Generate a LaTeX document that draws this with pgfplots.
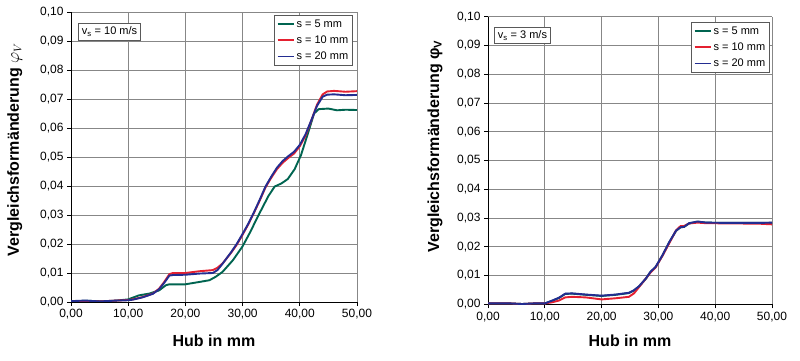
\documentclass[border=0pt]{standalone}
\usepackage{pgfplots}
\pgfplotsset{compat=1.18}
\usepackage{pgfplotstable}
\usepackage{fontspec}
\setmainfont{Liberation Sans}
\definecolor{cgreen}{RGB}{0,100,80}
\definecolor{cred}{RGB}{228,32,48}
\definecolor{cblue}{RGB}{35,45,145}
\definecolor{gridc}{RGB}{135,135,135}

% left chart (v_s = 10 m/s)
\pgfplotstableread{
x y
0 0.0003
3 0.0004
6 0.0002
8 0.0005
10 0.0009
10.8 0.0015
11.9 0.0023
13.7 0.0029
15.4 0.0040
16.6 0.0058
17.2 0.0061
20 0.0061
22.4 0.0069
24.2 0.0075
25.3 0.0087
26.5 0.0104
28.3 0.0144
30 0.0192
31.3 0.0240
32.8 0.0300
34.5 0.0365
35.6 0.0398
36.8 0.0409
37.9 0.0424
39.1 0.0458
40.2 0.0506
41.4 0.0580
42.5 0.0650
43.3 0.0665
45 0.0667
46.5 0.0661
48 0.0663
50 0.0662
}\LfiveTab
\pgfplotstableread{
x y
0 0.0003
5 0.0002
8 0.0005
10 0.0007
10.8 0.0009
12.5 0.0017
14.3 0.0029
15.4 0.0046
16.3 0.0069
17.2 0.0096
17.8 0.0100
20 0.0100
22.4 0.0106
24.8 0.0110
25.6 0.0118
26.5 0.0133
28 0.0170
29 0.0198
30 0.0232
31 0.0268
32 0.0308
33 0.0350
34 0.0395
35 0.0428
36 0.0458
37 0.0480
38 0.0497
39 0.0512
40 0.0537
41 0.0573
42 0.0625
43 0.0680
44 0.0716
44.8 0.0726
46 0.0728
48 0.0725
50 0.0727
}\LtenTab
\pgfplotstableread{
x y
0 0.0003
2.5 0.0005
5 0.0002
8 0.0005
10 0.0006
10.8 0.0008
12.5 0.0016
14.3 0.0028
15.4 0.0044
16.3 0.0066
17.2 0.0091
17.8 0.0093
20 0.0094
22.4 0.0098
24.8 0.0100
25.6 0.0110
26.5 0.0132
28 0.0172
29 0.0201
30 0.0235
31 0.0270
32 0.0310
33 0.0353
34 0.0398
35 0.0432
36 0.0463
37 0.0486
38 0.0503
39 0.0518
40 0.0542
41 0.0578
42 0.0626
43 0.0676
44 0.0708
44.8 0.0715
46 0.0716
48 0.0713
50 0.0714
}\LtwentyTab

% right chart (v_s = 3 m/s)
\pgfplotstableread{
x y
0 0.0003
4 0.0003
6 0.0001
8 0.0003
10 0.0003
11.3 0.0012
12.5 0.0022
13.6 0.0036
14.8 0.0037
17.2 0.0033
20 0.0029
22.5 0.0033
24.8 0.0039
25.7 0.0048
26.6 0.0062
27.8 0.0089
28.6 0.0112
29.5 0.0129
30.7 0.0169
31.9 0.0215
33.1 0.0255
33.9 0.0268
34.5 0.0269
35.4 0.0281
36.9 0.0287
38.4 0.0284
42 0.0283
46 0.0283
48 0.0283
50 0.0283
}\RfiveTab
\pgfplotstableread{
x y
0 0.0003
4 0.0003
6 0.0001
8 0.0003
10 0.0003
11.3 0.0007
12.5 0.0013
13.6 0.0024
14.8 0.0026
17.2 0.0024
20 0.0017
22.5 0.0021
24.8 0.0026
25.7 0.0038
26.6 0.0060
27.8 0.0090
28.6 0.0110
29.5 0.0128
30.7 0.0168
31.9 0.0212
33.1 0.0257
33.9 0.0272
34.5 0.0272
35.4 0.0281
36.9 0.0284
38.4 0.0282
44 0.0281
48 0.0280
50 0.0278
}\RtenTab
\pgfplotstableread{
x y
0 0.0003
4 0.0003
6 0.0001
8 0.0003
10 0.0003
11.3 0.0013
12.5 0.0023
13.6 0.0037
14.8 0.0038
17.2 0.0034
20 0.0030
22.5 0.0034
24.8 0.0040
25.7 0.0049
26.6 0.0063
27.8 0.0090
28.6 0.0113
29.5 0.0130
30.7 0.0170
31.9 0.0216
33.1 0.0256
33.9 0.0268
34.5 0.0269
35.4 0.0282
36.9 0.0288
38.4 0.0284
42 0.0283
46 0.0283
48 0.0283
50 0.0284
}\RtwentyTab

\pgfplotsset{mystyle/.style={
  scale only axis,
  xmin=0, xmax=50, ymin=0, ymax=0.1,
  xtick={0,10,20,30,40,50},
  ytick={0,0.01,0.02,0.03,0.04,0.05,0.06,0.07,0.08,0.09,0.1},
  axis lines=left,
  axis line style={-, black, line width=0.8pt},
  grid=major,
  major grid style={gridc, line width=0.8pt},
  tick align=outside,
  major tick length=4pt,
  tick style={black, line width=0.7pt},
  /pgf/number format/use comma,
  /pgf/number format/fixed,
  /pgf/number format/fixed zerofill,
  /pgf/number format/precision=2,
  /pgf/number format/assume math mode=true,
  ticklabel style={font=\fontsize{12}{14}\selectfont},
  label style={font=\bfseries\fontsize{16}{19}\selectfont},
  xlabel={Hub in mm},
  legend style={anchor=north east, draw=gray!70!black, line width=0.6pt,
    font=\fontsize{11}{13}\selectfont, inner sep=2.5pt,
    cells={anchor=west}, row sep=3pt},
  legend cell align=left,
  legend image code/.code={\draw[#1, line width=1.9pt] (0pt,0pt) -- (16pt,0pt);},
  every axis plot/.append style={line width=1.9pt, line join=round},
}}

\begin{document}
\begin{tikzpicture}
\path[use as bounding box] (0,0) rectangle (800pt,361pt);

\begin{axis}[mystyle,
  at={(71pt,59pt)}, anchor=south west,
  width=286pt, height=290pt,
  xlabel style={at={(axis description cs:0.5,-0.154)}, anchor=base},
  ylabel={Vergleichsformänderung $\varphi_V$},
  ylabel style={at={(axis description cs:-0.197,0.525)}, anchor=center},
  legend style={at={(axis description cs:0.986,0.99)}},
]
\addplot[cgreen] table[x=x,y=y] {\LfiveTab};
\addlegendentry{s = 5 mm}
\addplot[cred] table[x=x,y=y] {\LtenTab};
\addlegendentry{s = 10 mm}
\addplot[cblue] table[x=x,y=y] {\LtwentyTab};
\addlegendentry{s = 20 mm}
\node[draw=gray!70!black, line width=0.6pt, fill=white, anchor=north west, inner sep=3.5pt,
  font=\fontsize{11}{13}\selectfont] at (axis description cs:0.0245,0.962) {v\textsubscript{s} = 10 m/s};
\end{axis}

\begin{axis}[mystyle,
  at={(488pt,56.7pt)}, anchor=south west,
  width=284pt, height=287.6pt,
  xlabel style={at={(axis description cs:0.5,-0.147)}, anchor=base},
  ylabel={Vergleichsformänderung φ\textsubscript{V}},
  ylabel style={at={(axis description cs:-0.187,0.549)}, anchor=center},
  legend style={at={(axis description cs:0.993,0.982)}},
]
\addplot[cgreen] table[x=x,y=y] {\RfiveTab};
\addlegendentry{s = 5 mm}
\addplot[cred] table[x=x,y=y] {\RtenTab};
\addlegendentry{s = 10 mm}
\addplot[cblue] table[x=x,y=y] {\RtwentyTab};
\addlegendentry{s = 20 mm}
\node[draw=gray!70!black, line width=0.6pt, fill=white, anchor=north west, inner sep=3.5pt,
  font=\fontsize{11}{13}\selectfont] at (axis description cs:0.021,0.965) {v\textsubscript{s} = 3 m/s};
\end{axis}
\end{tikzpicture}
\end{document}
